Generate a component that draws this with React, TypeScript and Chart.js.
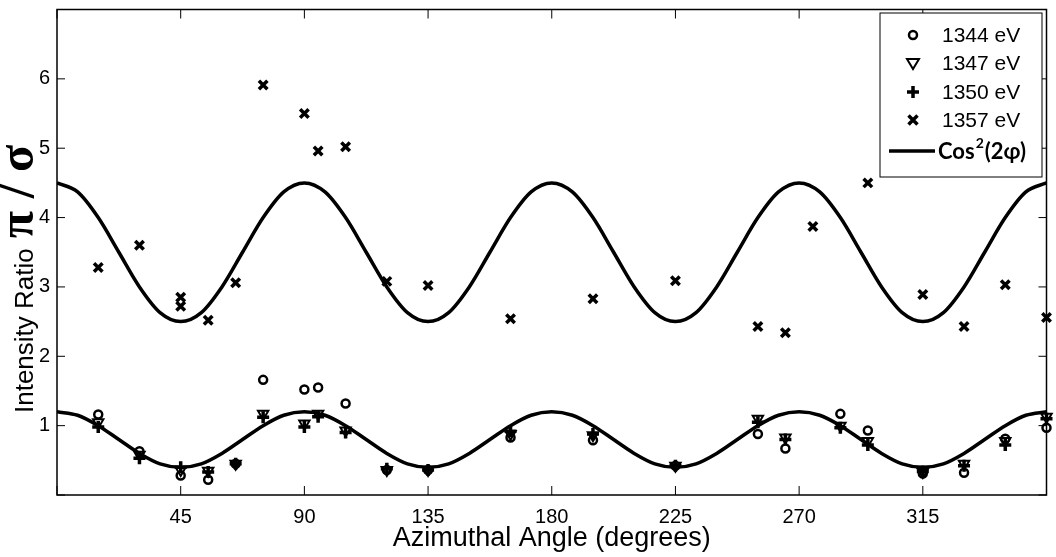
import { useEffect, useRef } from "react";
import { Chart, registerables, type Plugin } from "chart.js";

Chart.register(...registerables);

// measured angles (degrees) for the three low-energy runs
const ANGLES = [15, 30, 45, 55, 65, 75, 90, 95, 105, 120, 135, 165, 195, 225, 255, 265, 285, 295, 315, 330, 345, 360];
const R1344 = [1.16, 0.63, 0.28, 0.22, 0.45, 1.66, 1.52, 1.55, 1.32, 0.36, 0.36, 0.83, 0.79, 0.42, 0.88, 0.67, 1.17, 0.93, 0.31, 0.32, 0.81, 0.97];
const R1347 = [1.05, 0.58, 0.36, 0.35, 0.45, 1.17, 1.03, 1.17, 0.93, 0.36, 0.36, 0.88, 0.86, 0.42, 1.1, 0.83, 1.0, 0.78, 0.33, 0.45, 0.78, 1.13];
const R1350 = [0.98, 0.53, 0.4, 0.33, 0.45, 1.12, 0.98, 1.13, 0.9, 0.38, 0.36, 0.92, 0.88, 0.42, 1.05, 0.8, 0.97, 0.72, 0.34, 0.42, 0.72, 1.1];

const ANGLES_1357 = [15, 30, 45, 45, 55, 65, 75, 90, 95, 105, 120, 135, 165, 195, 225, 255, 265, 275, 295, 315, 330, 345, 360];
const R1357 = [3.28, 3.6, 2.85, 2.72, 2.52, 3.06, 5.91, 5.5, 4.96, 5.02, 3.08, 3.02, 2.54, 2.83, 3.09, 2.43, 2.34, 3.87, 4.5, 2.89, 2.43, 3.03, 2.56];

// cos^2(2phi) curves read every 7.5 degrees
const FIT_ANGLES = [
  0, 7.5, 15, 22.5, 30, 37.5, 45, 52.5, 60, 67.5, 75, 82.5,
  90, 97.5, 105, 112.5, 120, 127.5, 135, 142.5, 150, 157.5, 165, 172.5,
  180, 187.5, 195, 202.5, 210, 217.5, 225, 232.5, 240, 247.5, 255, 262.5,
  270, 277.5, 285, 292.5, 300, 307.5, 315, 322.5, 330, 337.5, 345, 352.5, 360,
];
const FIT_HIGH = [
  4.5, 4.37, 4.0, 3.5, 3.0, 2.63, 2.5, 2.63, 3.0, 3.5, 4.0, 4.37,
  4.5, 4.37, 4.0, 3.5, 3.0, 2.63, 2.5, 2.63, 3.0, 3.5, 4.0, 4.37,
  4.5, 4.37, 4.0, 3.5, 3.0, 2.63, 2.5, 2.63, 3.0, 3.5, 4.0, 4.37,
  4.5, 4.37, 4.0, 3.5, 3.0, 2.63, 2.5, 2.63, 3.0, 3.5, 4.0, 4.37, 4.5,
];
const FIT_LOW = [
  1.2, 1.15, 1.0, 0.8, 0.6, 0.45, 0.4, 0.45, 0.6, 0.8, 1.0, 1.15,
  1.2, 1.15, 1.0, 0.8, 0.6, 0.45, 0.4, 0.45, 0.6, 0.8, 1.0, 1.15,
  1.2, 1.15, 1.0, 0.8, 0.6, 0.45, 0.4, 0.45, 0.6, 0.8, 1.0, 1.15,
  1.2, 1.15, 1.0, 0.8, 0.6, 0.45, 0.4, 0.45, 0.6, 0.8, 1.0, 1.15, 1.2,
];

const SANS = '"Liberation Sans", Arial, sans-serif';
const INK = "#000";

const pts = (xs: number[], ys: number[]) => xs.map((x, i) => ({ x, y: ys[i] }));

function drawMarker(ctx: CanvasRenderingContext2D, kind: string, x: number, y: number) {
  ctx.save();
  ctx.strokeStyle = INK;
  ctx.beginPath();
  if (kind === "circle") {
    ctx.lineWidth = 2.5;
    ctx.arc(x, y, 4, 0, Math.PI * 2);
  } else if (kind === "tri") {
    ctx.lineWidth = 2;
    ctx.moveTo(x - 6, y - 4);
    ctx.lineTo(x + 6, y - 4);
    ctx.lineTo(x, y + 6);
    ctx.closePath();
  } else if (kind === "plus") {
    ctx.lineWidth = 3.5;
    ctx.moveTo(x - 6, y);
    ctx.lineTo(x + 6, y);
    ctx.moveTo(x, y - 6);
    ctx.lineTo(x, y + 6);
  } else {
    ctx.lineWidth = 3.5;
    ctx.moveTo(x - 4.5, y - 4.5);
    ctx.lineTo(x + 4.5, y + 4.5);
    ctx.moveTo(x + 4.5, y - 4.5);
    ctx.lineTo(x - 4.5, y + 4.5);
  }
  ctx.stroke();
  ctx.restore();
}

// box, inward ticks, y title and legend, MATLAB style
const decor: Plugin = {
  id: "decor",
  afterDraw(chart) {
    const { ctx, chartArea: a } = chart;
    const xs = chart.scales.x;
    const ys = chart.scales.y;
    ctx.save();
    ctx.strokeStyle = INK;
    ctx.lineWidth = 1.5;
    ctx.strokeRect(a.left, a.top, a.right - a.left, a.bottom - a.top);
    ctx.lineWidth = 1;
    ctx.beginPath();
    xs.ticks.forEach((t) => {
      const px = xs.getPixelForValue(t.value);
      ctx.moveTo(px, a.bottom);
      ctx.lineTo(px, a.bottom - 9);
      ctx.moveTo(px, a.top);
      ctx.lineTo(px, a.top + 9);
    });
    ys.ticks.forEach((t) => {
      const py = ys.getPixelForValue(t.value);
      ctx.moveTo(a.left, py);
      ctx.lineTo(a.left + 8, py);
      ctx.moveTo(a.right, py);
      ctx.lineTo(a.right - 8, py);
    });
    ctx.stroke();

    // y axis title: plain text followed by bold pi / sigma
    ctx.translate(33, 413);
    ctx.rotate(-Math.PI / 2);
    ctx.fillStyle = INK;
    ctx.textBaseline = "alphabetic";
    ctx.font = `26px ${SANS}`;
    ctx.fillText("Intensity Ratio", 0, 0);
    const w = ctx.measureText("Intensity Ratio").width;
    ctx.font = 'bold 50px "Liberation Serif", serif';
    ctx.fillText("π / σ", w + 10, 0);
    ctx.restore();

    // legend
    ctx.save();
    ctx.fillStyle = "#fff";
    ctx.fillRect(880, 13, 162, 164);
    ctx.strokeStyle = INK;
    ctx.lineWidth = 1;
    ctx.strokeRect(880, 13, 162, 164);
    const rows: [string, string, number][] = [
      ["circle", "1344 eV", 35],
      ["tri", "1347 eV", 63],
      ["plus", "1350 eV", 92],
      ["cross", "1357 eV", 120],
    ];
    ctx.fillStyle = INK;
    ctx.textBaseline = "middle";
    ctx.font = `21px ${SANS}`;
    rows.forEach(([k, label, y]) => {
      drawMarker(ctx, k, 913, y);
      ctx.fillText(label, 942, y + 1);
    });
    ctx.lineWidth = 3.5;
    ctx.beginPath();
    ctx.moveTo(889, 151);
    ctx.lineTo(935, 151);
    ctx.stroke();
    ctx.font = 'bold 22px Lato, "Open Sans", sans-serif';
    ctx.fillText("Cos", 938, 152);
    const cw = ctx.measureText("Cos").width;
    ctx.font = 'bold 14px Lato, "Open Sans", sans-serif';
    ctx.fillText("2", 938 + cw + 1, 143);
    const sw = ctx.measureText("2").width;
    ctx.font = 'bold 22px Lato, "Open Sans", sans-serif';
    ctx.fillText("(2φ)", 938 + cw + sw + 2, 152);
    ctx.restore();
  },
};

export default function App() {
  const canvasRef = useRef<HTMLCanvasElement>(null);

  useEffect(() => {
    if (!canvasRef.current) return;
    const scatter = (label: string, data: { x: number; y: number }[], style: any) => ({
      label,
      data,
      showLine: false,
      borderColor: INK,
      backgroundColor: "rgba(0,0,0,0)",
      clip: false as const,
      ...style,
    });
    const chart = new Chart(canvasRef.current, {
      type: "scatter",
      data: {
        datasets: [
          {
            label: "Cos²(2φ)",
            data: pts(FIT_ANGLES, FIT_HIGH),
            showLine: true,
            borderColor: INK,
            borderWidth: 3.5,
            pointRadius: 0,
            cubicInterpolationMode: "monotone",
          },
          {
            label: "Cos²(2φ) low",
            data: pts(FIT_ANGLES, FIT_LOW),
            showLine: true,
            borderColor: INK,
            borderWidth: 3.5,
            pointRadius: 0,
            cubicInterpolationMode: "monotone",
          },
          scatter("1344 eV", pts(ANGLES, R1344), { pointStyle: "circle", pointRadius: 4, pointBorderWidth: 2.5 }),
          scatter("1347 eV", pts(ANGLES, R1347), { pointStyle: "triangle", rotation: 180, pointRadius: 6, pointBorderWidth: 2 }),
          scatter("1350 eV", pts(ANGLES, R1350), { pointStyle: "cross", pointRadius: 6, pointBorderWidth: 3.5 }),
          scatter("1357 eV", pts(ANGLES_1357, R1357), { pointStyle: "crossRot", pointRadius: 6, pointBorderWidth: 3.5 }),
        ],
      },
      options: {
        animation: false,
        responsive: false,
        maintainAspectRatio: false,
        layout: { padding: { top: 8, right: 7, left: 0, bottom: 0 } },
        plugins: { legend: { display: false }, tooltip: { enabled: false } },
        scales: {
          x: {
            type: "linear",
            min: 0,
            max: 360,
            afterFit: (s) => {
              s.height = 62;
              s.paddingLeft = 0;
              s.paddingRight = 0;
            },
            grid: { display: false, drawTicks: false },
            border: { display: false },
            ticks: {
              stepSize: 45,
              padding: 10,
              color: INK,
              font: { family: SANS, size: 20 },
              callback: (v) => (v === 0 || v === 360 ? "" : String(v)),
            },
            title: {
              display: true,
              text: "Azimuthal Angle (degrees)",
              color: INK,
              font: { family: SANS, size: 27 },
              padding: { top: 0, bottom: 2 },
            },
          },
          y: {
            type: "linear",
            min: 0,
            max: 7,
            afterFit: (s) => {
              s.width = 57;
              s.paddingTop = 0;
              s.paddingBottom = 0;
            },
            grid: { display: false, drawTicks: false },
            border: { display: false },
            ticks: {
              stepSize: 1,
              padding: 7,
              color: INK,
              font: { family: SANS, size: 20 },
              callback: (v) => (v === 0 || v === 7 ? "" : String(v)),
            },
          },
        },
      },
      plugins: [decor],
    });
    return () => chart.destroy();
  }, []);

  return (
    <div style={{ position: "fixed", left: 0, top: 0, width: 1056, height: 557, background: "#fff" }}>
      <canvas ref={canvasRef} width={1056} height={557} />
    </div>
  );
}
